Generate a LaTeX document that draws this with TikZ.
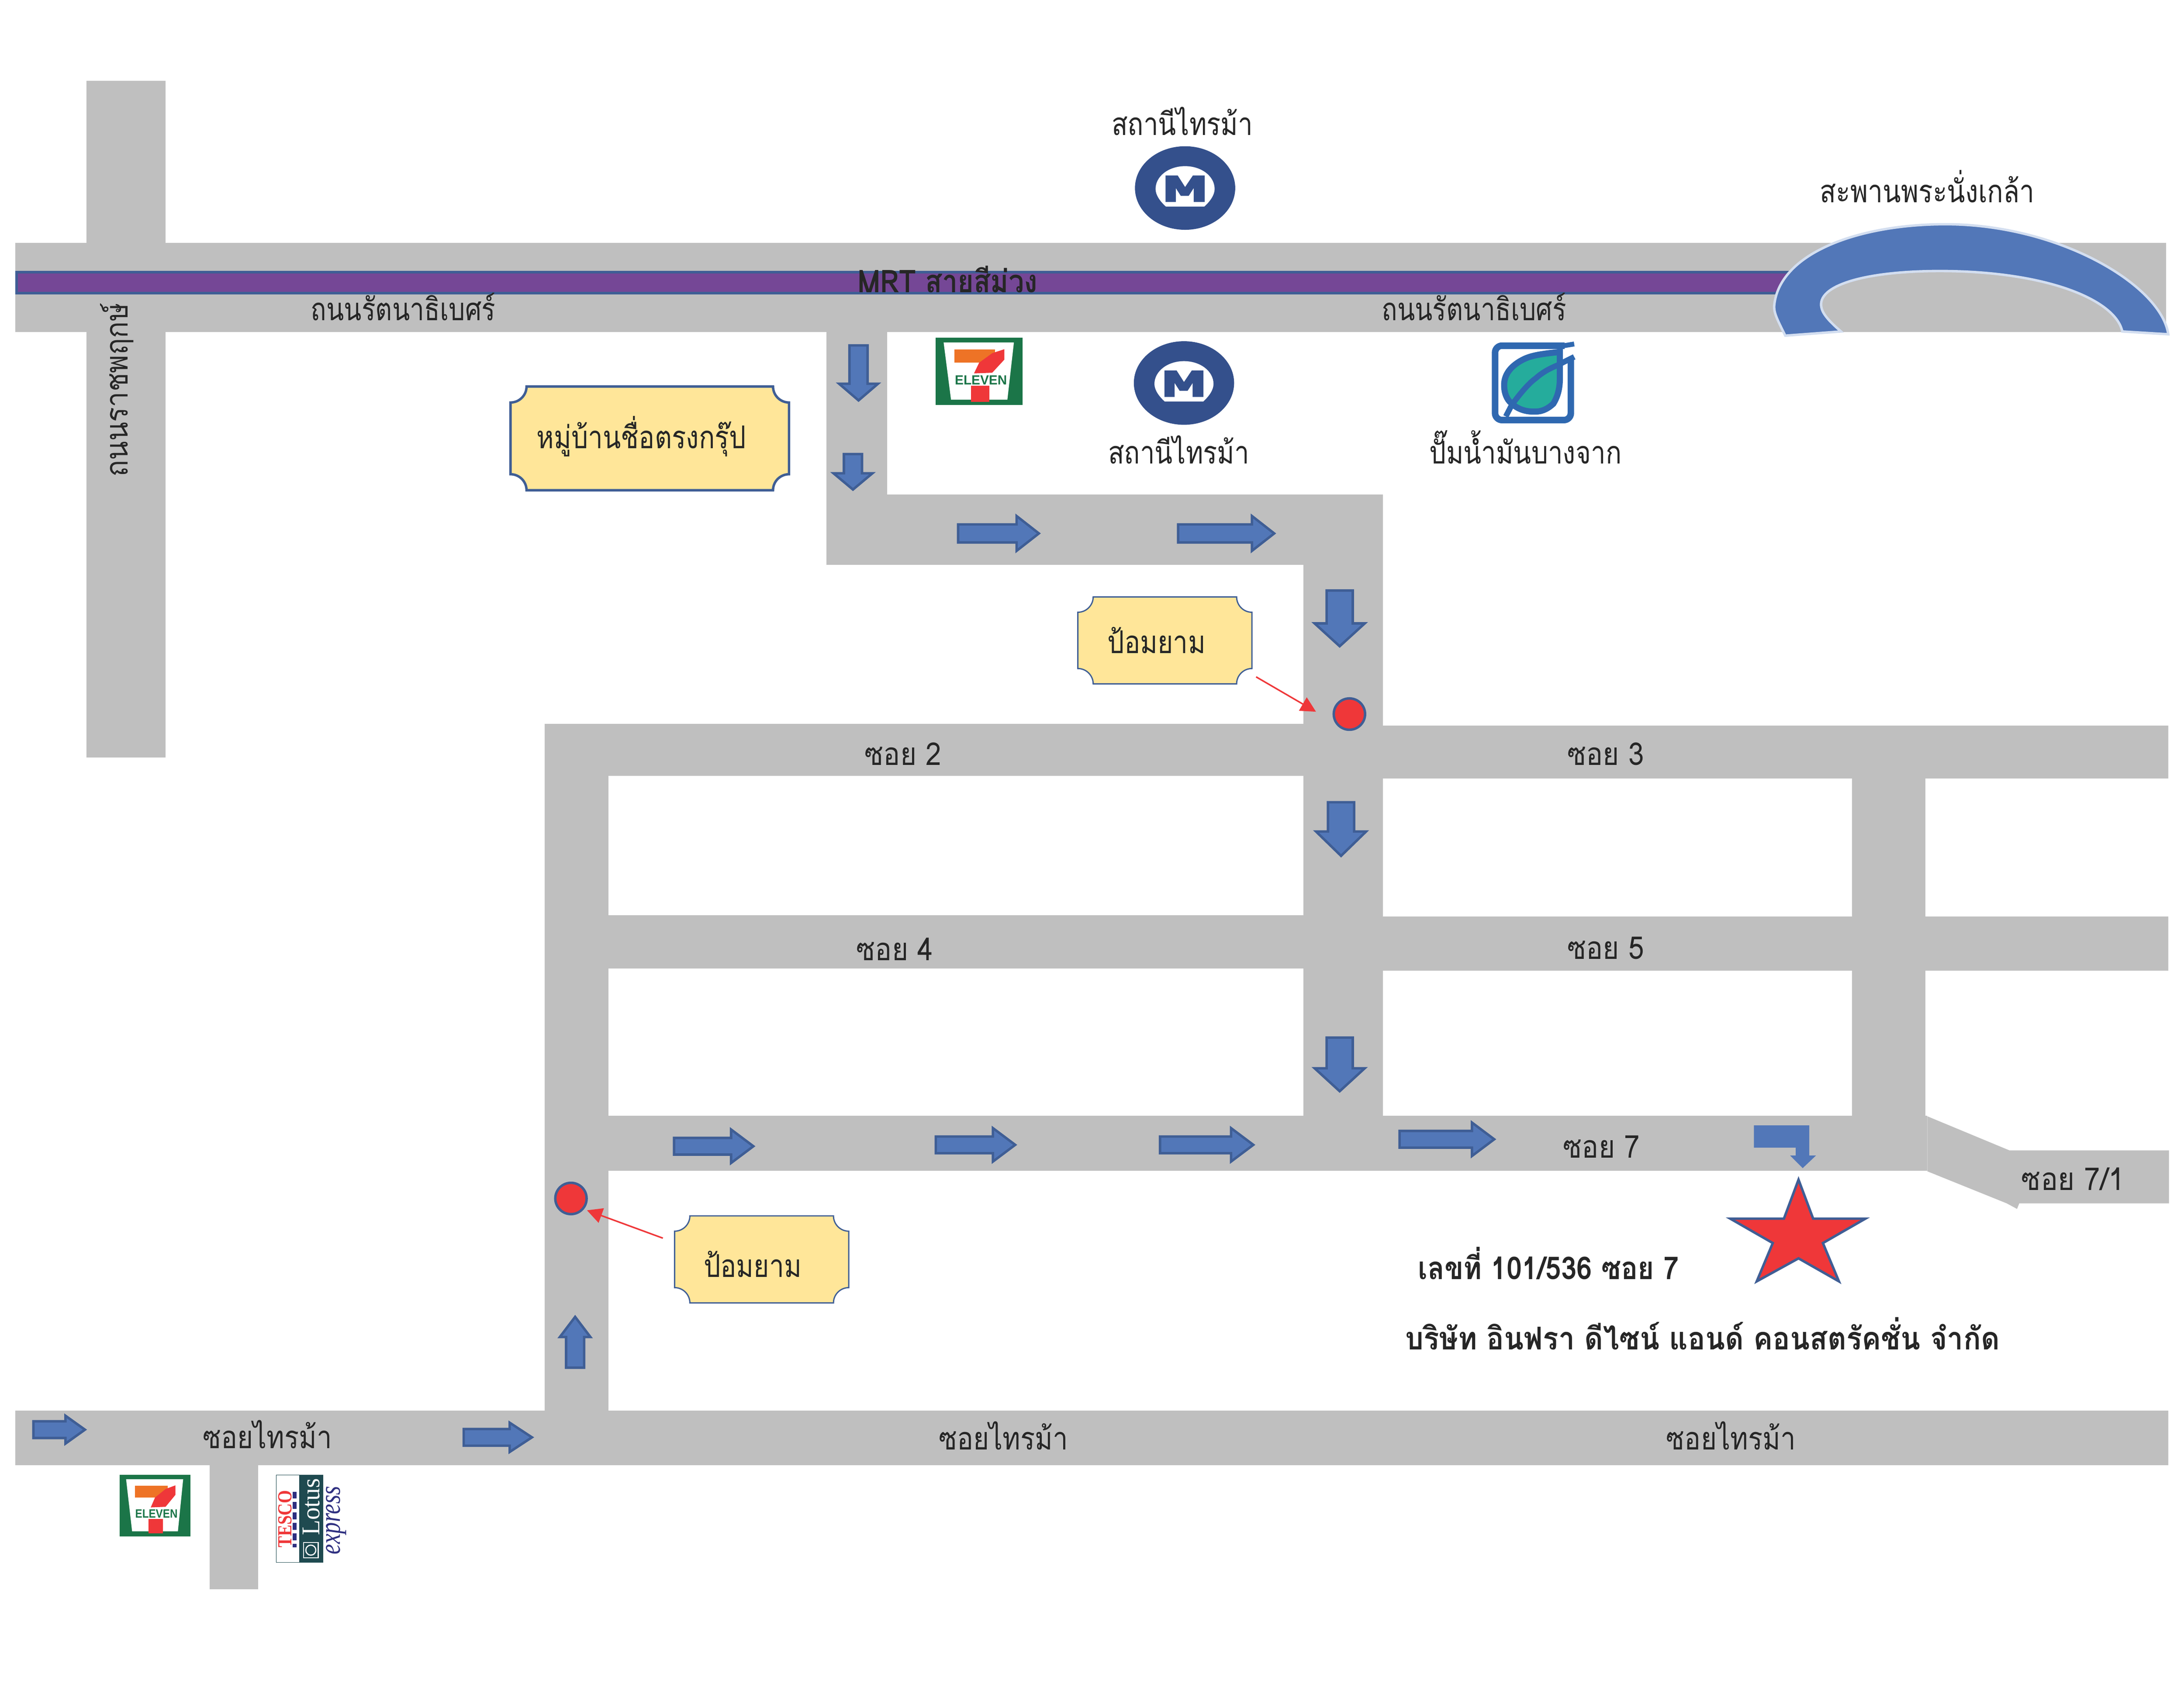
\documentclass[tikz,border=0pt]{standalone}
\usepackage{fontspec}
\usetikzlibrary{arrows.meta}
\setmainfont{Liberation Sans}
\newfontfamily\thaifont[Script=Thai]{Loma}
\newfontfamily\logoserif{Liberation Serif}
\definecolor{roadgray}{HTML}{BFBFBF}
\definecolor{txt}{HTML}{262626}
\definecolor{plaquey}{HTML}{FFE699}
\definecolor{arrowb}{HTML}{5277B8}
\definecolor{edgeb}{HTML}{3F5E95}
\definecolor{mrtp}{HTML}{754796}
\definecolor{metro}{HTML}{34508C}
\definecolor{redd}{HTML}{EF3739}
\definecolor{sevgreen}{HTML}{1B7548}
\definecolor{sevorange}{HTML}{EE7326}
\definecolor{bclight}{HTML}{D3DEF0}
\definecolor{bcblue}{HTML}{2F68B0}
\definecolor{bcgreen}{HTML}{25AC9C}
\definecolor{lotus}{HTML}{1F4A50}
\definecolor{navy}{HTML}{2E2F80}
\def\uu{0.04208cm}
\newcommand\fitbox[3]{\pgfmathsetlengthmacro\fitw{#1*0.04208cm}\pgfmathsetlengthmacro\fith{#2*0.04208cm}\resizebox{\fitw}{\fith}{#3}}
\newcommand\sx[2]{\scalebox{#1}[1]{#2}}
\tikzset{
  road/.style={fill=roadgray,draw=none},
  blockarrow/.style={fill=arrowb,draw=edgeb,line width=2.1pt,miter limit=10},
  plaquebox/.style={fill=plaquey,draw=edgeb},
  label/.style={font=\thaifont\fontsize{27}{32}\selectfont,text=txt,inner sep=0pt,anchor=base},
  boldlabel/.style={label,font=\thaifont\bfseries\fontsize{27}{32}\selectfont},
  reddot/.style={circle,fill=redd,draw=edgeb,line width=2.1pt,minimum size=22.5*\uu,inner sep=0pt},
  redarrow/.style={draw=redd,line width=1.3pt,-{Triangle[length=0.46cm,width=0.46cm,fill=redd]}},
  logotext/.style={inner sep=0pt,anchor=center}
}
% down arrow: cx, top, headstart, tip, shaft half, head half
\newcommand\arrdown[6]{\draw[blockarrow] (#1-#5,#2)--(#1+#5,#2)--(#1+#5,#3)--(#1+#6,#3)--(#1,#4)--(#1-#6,#3)--(#1-#5,#3)--cycle;}
% right arrow: cy, left, headstart, tip, shaft half, head half
\newcommand\arrright[6]{\draw[blockarrow] (#2,#1-#5)--(#2,#1+#5)--(#3,#1+#5)--(#3,#1+#6)--(#4,#1)--(#3,#1-#6)--(#3,#1-#5)--cycle;}
% plaque: x1,y1,x2,y2,r,linewidth
\newcommand\plaquebox[6]{\draw[plaquebox,line width=#6]
  (#1,#2+#5) .. controls (#1+.55*#5,#2+#5) and (#1+#5,#2+.55*#5) .. (#1+#5,#2)
  -- (#3-#5,#2) .. controls (#3-#5,#2+.55*#5) and (#3-.55*#5,#2+#5) .. (#3,#2+#5)
  -- (#3,#4-#5) .. controls (#3-.55*#5,#4-#5) and (#3-#5,#4-.55*#5) .. (#3-#5,#4)
  -- (#1+#5,#4) .. controls (#1+#5,#4-.55*#5) and (#1+.55*#5,#4-#5) .. (#1,#4-#5) -- cycle;}
% seven eleven logo: name, x, y, w, h
\newcommand\sevenlogo[5]{
  \begin{scope}[shift={(#2,#3)},x=#4*\uu,y=-#5*\uu]
    \fill[sevgreen] (0,0) rectangle (1,1);
    \fill[white] (.09,.07)--(.90,.07)--(.825,.92)--(.175,.92)--cycle;
    \fill[sevorange] (.215,.175) rectangle (.68,.37);
    \fill[redd] (.79,.17)--(.79,.325)--(.65,.52)--(.44,.53)--(.5,.37)--(.65,.23)--cycle;
    \fill[redd] (.405,.715) rectangle (.615,.955);
    \node[logotext,text=sevgreen] (#1) at (.52,.63) {\fitbox{#4*.6}{#5*.135}{\bfseries ELEVEN}};
  \end{scope}}
% metro logo: centre x,y
\newcommand\metrologo[2]{
  \fill[metro] (#1,#2) ellipse [x radius=36,y radius=30];
  \fill[white] (#1-13.8,#2+13.3) .. controls (#1-18,#2+9.5) and (#1-21.2,#2+5) .. (#1-21.2,#2+.7)
     .. controls (#1-21.2,#2-8.5) and (#1-11.7,#2-15.7) .. (#1,#2-15.7)
     .. controls (#1+11.7,#2-15.7) and (#1+21.2,#2-8.5) .. (#1+21.2,#2+.7)
     .. controls (#1+21.2,#2+5) and (#1+18,#2+9.5) .. (#1+13.8,#2+13.3) -- cycle;
  \fill[metro] (#1-14,#2+10) -- (#1-14,#2-9) -- (#1-5.3,#2-9) -- (#1,#2-.7) -- (#1+5.6,#2-9) -- (#1+14,#2-9)
     -- (#1+14,#2+10) -- (#1+6.2,#2+10) -- (#1+6.2,#2+0) -- (#1+2.6,#2+5.6) -- (#1-3.1,#2+5.6) -- (#1-6.7,#2+0) -- (#1-6.7,#2+10) -- cycle;}
\begin{document}
\begin{tikzpicture}[x=\uu,y=-\uu,line join=miter]
\useasboundingbox[fill=white] (0,0) rectangle (66cm,-51cm);
% ---- roads
\fill[road] (62,58) rectangle (119,544);
\fill[road] (11,174.4) rectangle (1555.5,238.4);
\fill[road] (593.6,238) rectangle (637,405.5);
\fill[road] (593.6,355) rectangle (993,405.5);
\fill[road] (936,355) rectangle (993,840);
\fill[road] (391,519.8) rectangle (936,557);
\fill[road] (936,520.9) rectangle (1557,559);
\fill[road] (391,519.8) rectangle (437,1012.9);
\fill[road] (437,657) rectangle (936,695.5);
\fill[road] (993,658) rectangle (1557,697);
\fill[road] (437,801) rectangle (1384,840.5);
\fill[road] (1330,559) rectangle (1382.5,810);
\fill[road] (1384,801.5)--(1443,826)--(1557.5,826)--(1557.5,864)--(1450,864)--(1448.4,868)--(1441,864)--(1384,841)--cycle;
\fill[road] (11,1012.9) rectangle (1557,1052);
\fill[road] (150.6,1052) rectangle (185.5,1141);
% ---- MRT line
\draw[fill=mrtp,draw=edgeb,line width=2.1pt] (12,195.4) rectangle (1290,210.5);
% ---- bridge
\draw[fill=arrowb,draw=bclight,line width=2.1pt]
  (1282,241) .. controls (1276,229) and (1274,225) .. (1274,220)
  .. controls (1277,182) and (1334,161) .. (1397,161)
  .. controls (1479,161) and (1552,205) .. (1557,240)
  -- (1524,238) .. controls (1519,215) and (1469,194.6) .. (1393,194.6)
  .. controls (1339,194.6) and (1304,205) .. (1308,221)
  .. controls (1309,226) and (1315,232) .. (1322,238) -- cycle;
% ---- blue arrows
\arrdown{616.5}{248}{275.5}{287.5}{6.5}{14}
\arrdown{612.5}{326}{339.8}{351.5}{6.5}{14}
\arrright{383}{688}{730}{746}{6.5}{12.5}
\arrright{383}{846}{899}{915}{6.5}{12.5}
\arrdown{962}{424}{447.6}{464}{9.4}{18}
\arrdown{963}{576}{597}{614.5}{9.4}{18}
\arrdown{962}{745}{767}{783.5}{9.4}{18}
\arrright{823}{484}{525}{541}{6}{12}
\arrright{822}{672}{713}{729}{6}{12}
\arrright{822}{833}{884}{900}{6}{12}
\arrright{818}{1005}{1057}{1073}{6}{12}
\arrright{1026.5}{24}{47}{61}{6}{10}
\arrright{1032}{333}{366}{382}{6}{10.5}
\draw[blockarrow] (406.5,982)--(419.5,982)--(419.5,960)--(424,960)--(413,945.5)--(402,960)--(406.5,960)--cycle;
\fill[arrowb] (1259.5,808)--(1299.2,808)--(1299.2,829.7)--(1304,829.7)--(1294.5,838.7)--(1285.5,829.7)--(1289.5,829.7)--(1289.5,824)--(1259.5,824)--cycle;
% ---- plaques
\plaquebox{366.6}{277.5}{566.6}{352}{11.5}{2.1pt}
\plaquebox{774}{428.6}{899}{491}{11}{1.1pt}
\plaquebox{484.4}{873}{609.5}{935.5}{11}{1.1pt}
% ---- star
\draw[fill=redd,draw=edgeb,line width=2.1pt,miter limit=20]
  (1291.5,847)--(1302,875)--(1339.5,875)--(1309,892.5)--(1320.5,920)--(1291.5,903.5)--(1261.5,920)--(1273,892.5)--(1242.5,875)--(1281,875)--cycle;
% ---- red dots and connectors
\node[reddot] (dotA) at (969,512.7) {};
\node[reddot] (dotB) at (410,860.5) {};
\coordinate (guardA) at (902,486);
\coordinate (tipA) at (945,511);
\coordinate (guardB) at (476,889);
\coordinate (tipB) at (421.5,869);
\draw[redarrow] (guardA) -- (tipA);
\draw[redarrow] (guardB) -- (tipB);
% ---- metro logos
\metrologo{851}{135}
\metrologo{850.2}{275}
% ---- seven eleven logos
\sevenlogo{sevenA}{672}{242.5}{62.3}{48.3}
\sevenlogo{sevenB}{86}{1059}{50.6}{44}
% ---- bangchak
\begin{scope}
  \draw[draw=bcblue,line width=4.7*\uu,rounded corners=5*\uu] (1123.5,248.2) -- (1073.6,248.2) -- (1073.6,301.6) -- (1128,301.6) -- (1128,258);
  \draw[draw=bcblue,line width=3.5*\uu] (1120,248.7) -- (1130.4,247);
  \draw[draw=bcblue,fill=bcgreen,line width=4.4*\uu] (1120.1,252.7) .. controls (1108,254) and (1100,255) .. (1094,258)
     .. controls (1086,262) and (1080.1,268) .. (1080.1,276.5)
     .. controls (1080.1,282) and (1082,287) .. (1085.3,289.5)
     .. controls (1090,294) and (1096,295.8) .. (1102.7,295.5)
     .. controls (1108,295.5) and (1112,293) .. (1115.4,289.9)
     .. controls (1119,284) and (1120.1,278) .. (1120.1,271.7) -- cycle;
  \draw[draw=bcblue,line width=4*\uu] (1081.3,299) -- (1085.6,290.7) .. controls (1092,282) and (1098,275) .. (1102.7,271.7)
     .. controls (1108,267) and (1113,264.5) .. (1118.5,262.2) -- (1130.4,256.2);
\end{scope}
% ---- tesco logo
\draw[draw=lotus,line width=.4pt,fill=white] (198.5,1059) rectangle (232,1121.8);
\fill[lotus] (214.8,1059) rectangle (232,1121.8);
\node[logotext,rotate=90,text=redd] (tesco) at (204.8,1090.6) {\fitbox{41}{9.5}{\logoserif\bfseries TESCO}};
\draw[navy,line width=3*\uu,dash pattern=on 0.21cm off 0.105cm] (211.5,1071) -- (211.5,1111);
\node[logotext,rotate=90,text=white] (lotusname) at (223.6,1082) {\fitbox{41}{12}{\logoserif Lotus}};
\draw[white,line width=1pt] (218,1107.5) rectangle (228.5,1118.5);
\draw[white,line width=1pt] (223.2,1113) circle [radius=3.6];
\node[logotext,rotate=90,text=navy] (express) at (241.5,1091.5) {\fitbox{49}{10}{\logoserif\itshape express}};
% ---- labels
\node[label] (stationTop) at (849,97) {\sx{.835}{สถานีไทรม้า}};
\node[label] (bridgeName) at (1384,145.5) {\sx{.846}{สะพานพระนั่งเกล้า}};
\node[boldlabel] (mrtName) at (680.5,210) {\sx{.877}{MRT สายสีม่วง}};
\node[label] (ratL) at (289.5,230) {\sx{.82}{ถนนรัตนาธิเบศร์}};
\node[label] (ratR) at (1058.5,230) {\sx{.82}{ถนนรัตนาธิเบศร์}};
\node[label,rotate=90] (ratchaphruek) at (91.6,280) {\sx{.88}{ถนนราชพฤกษ์}};
\node[label] (village) at (460.5,322) {\sx{.84}{หมู่บ้านชื่อตรงกรุ๊ป}};
\node[label] (stationLow) at (846.5,333) {\sx{.835}{สถานีไทรม้า}};
\node[label] (petrol) at (1095.5,333) {\sx{.835}{ปั๊มน้ำมันบางจาก}};
\node[label] (guardLabelA) at (830.5,469) {\sx{.843}{ป้อมยาม}};
\node[label] (guardLabelB) at (540.5,917) {\sx{.843}{ป้อมยาม}};
\node[label] (soi2) at (648.5,549.5) {\sx{.887}{ซอย 2}};
\node[label] (soi3) at (1153,549.5) {\sx{.887}{ซอย 3}};
\node[label] (soi4) at (642.5,689.5) {\sx{.887}{ซอย 4}};
\node[label] (soi5) at (1153,688.5) {\sx{.887}{ซอย 5}};
\node[label] (soi7) at (1150,831.5) {\sx{.887}{ซอย 7}};
\node[label] (soi71) at (1488.5,854.5) {\sx{.91}{ซอย 7/1}};
\node[label] (tramA) at (192,1040) {\sx{.86}{ซอยไทรม้า}};
\node[label] (tramB) at (720.5,1041) {\sx{.86}{ซอยไทรม้า}};
\node[label] (tramC) at (1243,1041) {\sx{.86}{ซอยไทรม้า}};
\node[boldlabel] (address) at (1112,918.5) {\sx{.886}{เลขที่ 101/536 ซอย 7}};
\node[boldlabel] (company) at (1222.5,969) {\sx{.92}{บริษัท อินฟรา ดีไซน์ แอนด์ คอนสตรัคชั่น จำกัด}};
\end{tikzpicture}
\end{document}
